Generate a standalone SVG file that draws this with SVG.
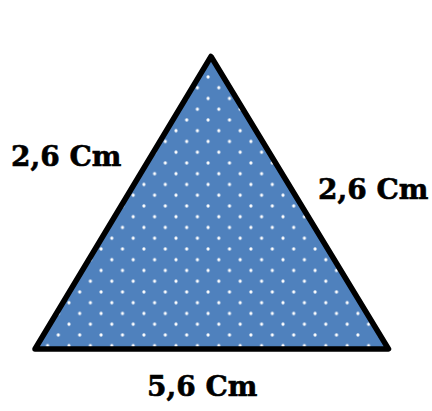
<svg xmlns="http://www.w3.org/2000/svg" width="432" height="411" viewBox="0 0 432 411">
  <defs>
    <filter id="soft" x="-1" y="-1" width="3" height="3">
      <feGaussianBlur stdDeviation="0.45"/>
    </filter>
    <pattern id="dots" patternUnits="userSpaceOnUse" x="69" y="302.7" width="21.4" height="21.5">
      <rect width="21.4" height="21.5" fill="#4F81BD"/>
      <g fill="#ffffff" filter="url(#soft)">
        <circle cx="0" cy="0" r="1.6"/>
        <circle cx="21.4" cy="0" r="1.6"/>
        <circle cx="0" cy="21.5" r="1.6"/>
        <circle cx="21.4" cy="21.5" r="1.6"/>
        <circle cx="10.7" cy="10.75" r="1.6"/>
      </g>
    </pattern>
  </defs>
  <style>
    .label { font-family: "DejaVu Serif", "Liberation Serif", serif; font-weight: bold; font-size: 28px; fill: #000000; stroke: #000000; stroke-width: 0.6; }
    .tri { fill: url(#dots); stroke: #000000; stroke-width: 5.5; stroke-linejoin: round; }
  </style>
  <rect width="432" height="411" fill="#ffffff"/>
  <g id="triangle">
    <polygon class="tri" points="211,56.5 388.5,349 35,349"/>
  </g>
  <g id="labels">
    <text id="label-left" class="label" x="11" y="166">2,6 Cm</text>
    <text id="label-right" class="label" x="318" y="199">2,6 Cm</text>
    <text id="label-bottom" class="label" x="147" y="396">5,6 Cm</text>
  </g>
</svg>
